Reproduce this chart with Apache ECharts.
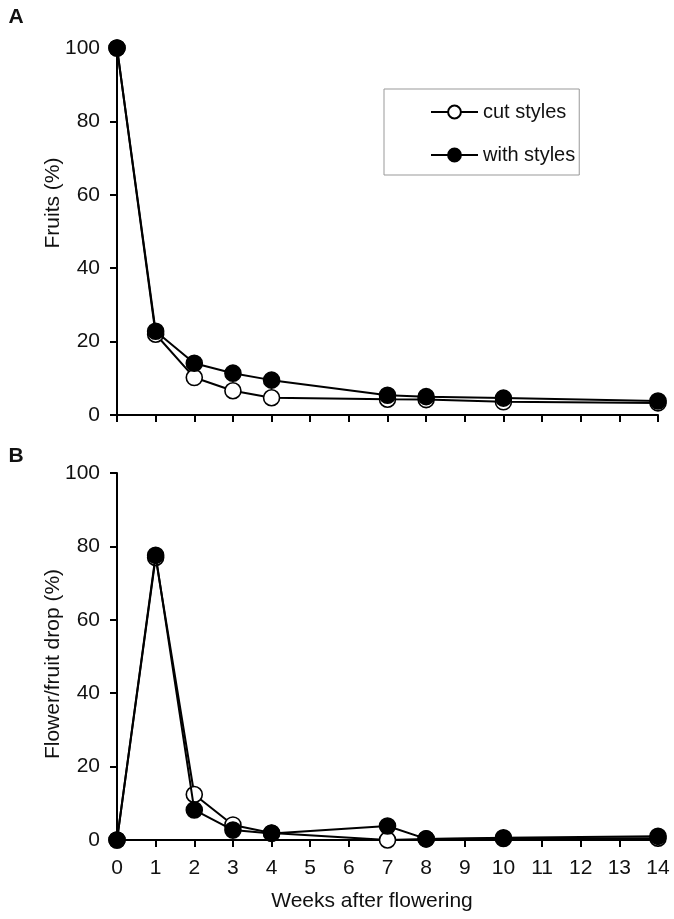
<!DOCTYPE html>
<html><head><meta charset="utf-8">
<script src="https://cdn.jsdelivr.net/npm/echarts@6/dist/echarts.min.js"></script>
<style>html,body{margin:0;padding:0;background:#fff}#c{width:674px;height:919px}</style>
</head><body><div id="c"></div>
<script>
const weeks = [0, 1, 2, 3, 4, 7, 8, 10, 14];
const fruitsCut = [100, 22, 10.2, 6.6, 4.7, 4.3, 4.2, 3.6, 3.3];
const fruitsWith = [100, 22.8, 14.1, 11.4, 9.5, 5.4, 5.0, 4.6, 3.8];
const dropCut = [0, 77, 12.4, 4.1, 1.9, 0, 0.3, 0.4, 0.5];
const dropWith = [0, 77.6, 8.2, 2.7, 1.8, 3.8, 0.3, 0.6, 1.0];
const xTicks = [0,1,2,3,4,5,6,7,8,9,10,11,12,13,14];
const yTicks = [0,20,40,60,80,100];
const seriesNames = ['cut styles', 'with styles'];
const axisNames = ['Fruits (%)', 'Flower/fruit drop (%)', 'Weeks after flowering'];
const panelLetters = ['A', 'B'];

const font = 'Liberation Sans, Arial, sans-serif';
const chart = echarts.init(document.getElementById('c'), null, {renderer: 'canvas'});
const pair = (xs, ys) => xs.map((x, i) => [x, ys[i]]);

function xAxis(gi, showLabels) {
  return {
    type: 'value', gridIndex: gi, min: xTicks[0], max: xTicks[xTicks.length-1], interval: 1,
    axisLine: {onZero: false, lineStyle: {color: '#000', width: 2}},
    axisTick: {show: true, length: 7, lineStyle: {color: '#000', width: 2}},
    axisLabel: {show: showLabels, color: '#111', fontSize: 21, fontFamily: font, margin: 18},
    splitLine: {show: false}
  };
}
function yAxis(gi) {
  return {
    type: 'value', gridIndex: gi, min: yTicks[0], max: yTicks[yTicks.length-1], interval: 20,
    axisLine: {show: true, lineStyle: {color: '#000', width: 2}},
    axisTick: {show: true, length: 7, lineStyle: {color: '#000', width: 2}},
    axisLabel: {color: '#111', fontSize: 21, fontFamily: font, margin: 17},
    splitLine: {show: false}
  };
}
function ser(name, data, xi, filled) {
  return {
    name: name, type: 'line', xAxisIndex: xi, yAxisIndex: xi, data: data,
    symbol: 'circle', symbolSize: 16, showSymbol: true,
    lineStyle: {color: '#000', width: 2},
    itemStyle: {color: filled ? '#000' : '#fff', borderColor: '#000', borderWidth: 1.6},
    emphasis: {disabled: true}, animation: false, z: filled ? 3 : 2
  };
}
function txt(text, x, y, rot, f) {
  return {type: 'text', x: x, y: y, rotation: rot,
    style: {text: text, font: f, fill: '#111', align: 'center', verticalAlign: 'middle'}};
}

chart.setOption({
  backgroundColor: '#fff',
  animation: false,
  grid: [
    {left: 117, top: 48, width: 541, height: 367},
    {left: 117, top: 473, width: 541, height: 367}
  ],
  xAxis: [xAxis(0, false), xAxis(1, true)],
  yAxis: [yAxis(0), yAxis(1)],
  legend: {
    data: seriesNames, orient: 'vertical', left: 384, top: 89,
    borderColor: '#999', borderWidth: 1,
    padding: [13, 4, 10, 46], itemGap: 23, itemWidth: 47, itemHeight: 16,
    textStyle: {color: '#111', fontSize: 20, fontFamily: font}
  },
  graphic: [
    txt(panelLetters[0], 16, 17, 0, 'bold 21px ' + font),
    txt(panelLetters[1], 16, 456, 0, 'bold 21px ' + font),
    txt(axisNames[0], 53, 203, Math.PI / 2, '21px ' + font),
    txt(axisNames[1], 53, 664, Math.PI / 2, '21px ' + font),
    txt(axisNames[2], 372, 901, 0, '21px ' + font)
  ],
  series: [
    ser(seriesNames[0], pair(weeks, fruitsCut), 0, false),
    ser(seriesNames[1], pair(weeks, fruitsWith), 0, true),
    ser(seriesNames[0], pair(weeks, dropCut), 1, false),
    ser(seriesNames[1], pair(weeks, dropWith), 1, true)
  ]
});
</script></body></html>
